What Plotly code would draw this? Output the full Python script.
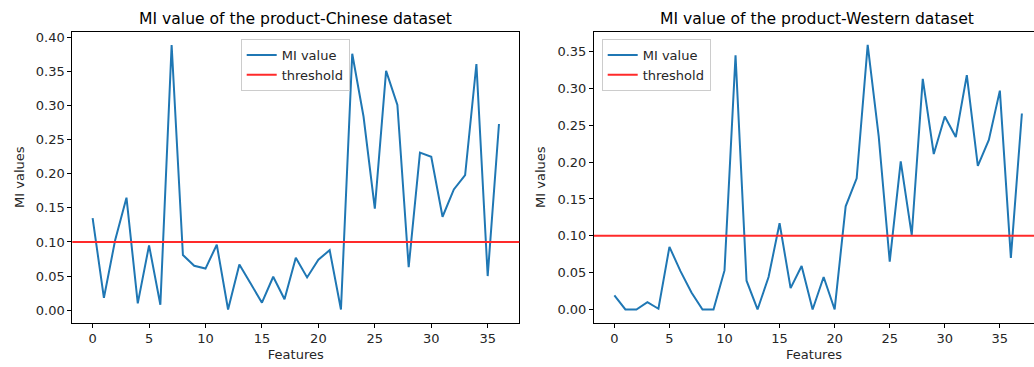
import plotly.graph_objects as go

# ---- data ----
chinese_features = list(range(37))
chinese_mi = [0.135, 0.018, 0.103, 0.165, 0.010, 0.095, 0.008, 0.389, 0.081, 0.065,
              0.061, 0.096, 0.001, 0.067, 0.039, 0.011, 0.049, 0.016, 0.077, 0.048,
              0.074, 0.088, 0.001, 0.376, 0.284, 0.149, 0.351, 0.301, 0.063, 0.231,
              0.225, 0.137, 0.177, 0.198, 0.361, 0.050, 0.273]

western_features = list(range(38))
western_mi = [0.019, 0.000, 0.000, 0.010, 0.001, 0.085, 0.052, 0.023, 0.000, 0.000,
              0.053, 0.345, 0.039, 0.000, 0.044, 0.117, 0.029, 0.059, 0.000, 0.044,
              0.000, 0.140, 0.178, 0.359, 0.235, 0.065, 0.201, 0.101, 0.313, 0.211,
              0.262, 0.234, 0.318, 0.195, 0.230, 0.297, 0.070, 0.266]

threshold = 0.1

titles = ["MI value of the product-Chinese dataset", "MI value of the product-Western dataset"]
x_ticks = [0, 5, 10, 15, 20, 25, 30, 35]
y_ticks_left = [0.00, 0.05, 0.10, 0.15, 0.20, 0.25, 0.30, 0.35, 0.40]
y_ticks_right = [0.00, 0.05, 0.10, 0.15, 0.20, 0.25, 0.30, 0.35]

W, H = 1034, 367
BLUE = "#1f77b4"
RED = "#ff2a2a"
FONT = "DejaVu Sans"
TXT = "#262626"


def pad(lo, hi, m=0.05):
    d = (hi - lo) * m
    return [lo - d, hi + d]


fig = go.Figure()
fig.add_trace(go.Scatter(x=chinese_features, y=chinese_mi, mode="lines", name="MI value",
                         line=dict(color=BLUE, width=2), xaxis="x", yaxis="y", legend="legend"))
fig.add_trace(go.Scatter(x=western_features, y=western_mi, mode="lines", name="MI value",
                         line=dict(color=BLUE, width=2), xaxis="x2", yaxis="y2", legend="legend2"))

fig.add_shape(type="line", xref="x domain", yref="y", x0=0, x1=1, y0=threshold, y1=threshold,
              line=dict(color=RED, width=2), showlegend=True, name="threshold", legend="legend")
fig.add_shape(type="line", xref="x2 domain", yref="y2", x0=0, x1=1, y0=threshold, y1=threshold,
              line=dict(color=RED, width=2), showlegend=True, name="threshold", legend="legend2")

ydom = [1 - 322.7 / H, 1 - 31.7 / H]
dom1 = [72.3 / W, 519.3 / W]
dom2 = [594.0 / W, 1.0]

xr1 = pad(min(chinese_features), max(chinese_features))
xr2 = pad(min(western_features), max(western_features))
xr2 = [xr2[0], 38.1]
yr1 = pad(min(chinese_mi), max(chinese_mi))
yr2 = pad(min(western_mi), max(western_mi))

axis_common = dict(showgrid=False, zeroline=False, showline=True, linecolor="black", linewidth=1,
                   ticks="outside", ticklen=4, tickwidth=1, tickcolor="black", automargin=False,
                   tickfont=dict(family=FONT, size=13, color=TXT))

fig.update_layout(
    width=W, height=H, margin=dict(l=0, r=0, t=0, b=0, autoexpand=False),
    paper_bgcolor="white", plot_bgcolor="white",
    font=dict(family=FONT, size=13, color=TXT),
    xaxis=dict(domain=dom1, range=xr1, tickvals=x_ticks, mirror=True, anchor="y",
               title=dict(text="Features", font=dict(size=13), standoff=4), **axis_common),
    yaxis=dict(domain=ydom, range=yr1, tickvals=y_ticks_left, tickformat=".2f", mirror=True, anchor="x",
               title=dict(text="MI values", font=dict(size=13), standoff=8), **axis_common),
    xaxis2=dict(domain=dom2, range=xr2, tickvals=x_ticks, mirror=True, anchor="y2",
                title=dict(text="Features", font=dict(size=13), standoff=4), **axis_common),
    yaxis2=dict(domain=ydom, range=yr2, tickvals=y_ticks_right, tickformat=".2f", mirror=False, anchor="x2",
                title=dict(text="MI values", font=dict(size=13), standoff=8), **axis_common),
    legend=dict(x=240.7 / W, y=1 - 39 / H, xanchor="left", yanchor="top",
                bgcolor="rgba(255,255,255,0.8)", bordercolor="#cccccc", borderwidth=1,
                font=dict(family=FONT, size=13, color=TXT), itemwidth=30, tracegroupgap=0),
    legend2=dict(x=601.7 / W, y=1 - 39 / H, xanchor="left", yanchor="top",
                 bgcolor="rgba(255,255,255,0.8)", bordercolor="#cccccc", borderwidth=1,
                 font=dict(family=FONT, size=13, color=TXT), itemwidth=30, tracegroupgap=0),
    annotations=[
        dict(text=titles[0], x=(dom1[0] + dom1[1]) / 2, y=1 - 19.5 / H, xref="paper", yref="paper",
             showarrow=False, xanchor="center", yanchor="middle", font=dict(family=FONT, size=15.6, color="black")),
        dict(text=titles[1], x=(dom2[0] + 1039.0 / W) / 2, y=1 - 19.5 / H, xref="paper", yref="paper",
             showarrow=False, xanchor="center", yanchor="middle", font=dict(family=FONT, size=15.6, color="black")),
    ],
)

fig.write_html("out.html", config={"displayModeBar": False},
               post_script="document.body.style.margin='0';document.body.style.overflow='hidden';")
